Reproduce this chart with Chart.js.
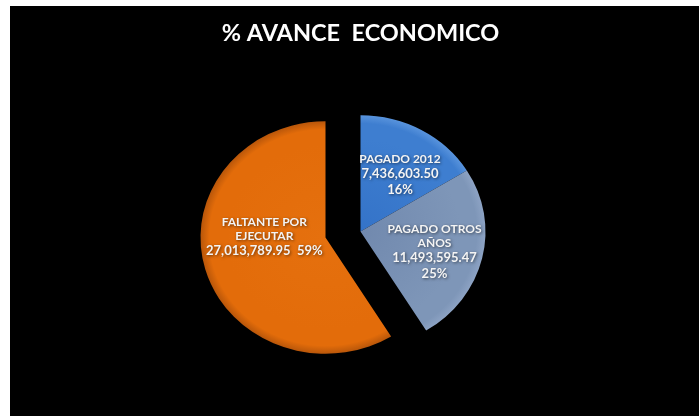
<!DOCTYPE html>
<html>
<head>
<meta charset="utf-8">
<script src="https://cdn.jsdelivr.net/npm/chart.js@4"></script>
<style>
  html, body { margin: 0; padding: 0; background: #fff; }
  .wrap { position: absolute; left: 10px; top: 6px; width: 689px; height: 410px; background: #000; }
</style>
</head>
<body>
<div class="wrap"><canvas id="chart" width="689" height="410"></canvas></div>
<script>
const chartTitle = '% AVANCE  ECONOMICO';
const categories = [['PAGADO 2012'], ['PAGADO OTROS', 'AÑOS'], ['FALTANTE POR', 'EJECUTAR']];
const amounts = [7436603.50, 11493595.47, 27013789.95];
const sliceColors = ['#3E7ED0', '#7E96B8', '#E36C0A'];
const sliceInner = ['#3473C8', '#7189AE', '#E5700E'];
const sliceRim = ['#5893DC', '#8DA3C4', '#B8560A'];

// pie look
const squash = 0.93;          // slight tilt of the pie
const pieRadius = 125;
const explodeIndex = 2;
const explodeShift = { x: -35, y: 6 };
const pctInline = [false, false, true];
const labelNudge = [[3, 4], [1, 4], [11, -20]];

const total = amounts.reduce((a, b) => a + b, 0);
const fmt = v => v.toLocaleString('en-US', { minimumFractionDigits: 2, maximumFractionDigits: 2 });

function pieCenter(chart) {
    const a = chart.chartArea;
    return { x: (a.left + a.right) / 2, y: (a.top + a.bottom) / 2 };
}

function shade(context) {
    const i = context.dataIndex;
    const chart = context.chart;
    if (!chart.chartArea) return sliceColors[i];
    const c = pieCenter(chart);
    let x = c.x, y = c.y;
    if (i === explodeIndex) { x += explodeShift.x; y += explodeShift.y / squash; }
    const g = chart.ctx.createRadialGradient(x, y, 0, x, y, pieRadius);
    g.addColorStop(0, sliceInner[i]);
    g.addColorStop(0.8, sliceColors[i]);
    g.addColorStop(0.93, sliceColors[i]);
    g.addColorStop(1, sliceRim[i]);
    return g;
}

const piePlugin = {
    id: 'pieLook',
    afterDatasetsUpdate(chart) {
        const arc = chart.getDatasetMeta(0).data[explodeIndex];
        arc.x += explodeShift.x;
        arc.y += explodeShift.y / squash;
    },
    beforeDatasetsDraw(chart) {
        const ctx = chart.ctx;
        const c = pieCenter(chart);
        ctx.save();
        ctx.translate(c.x, c.y);
        ctx.scale(1, squash);
        ctx.translate(-c.x, -c.y);
    },
    afterDatasetsDraw(chart) {
        const ctx = chart.ctx;
        ctx.restore();
        const c = pieCenter(chart);
        const arcs = chart.getDatasetMeta(0).data;
        ctx.save();
        ctx.textAlign = 'center';
        ctx.textBaseline = 'middle';
        ctx.fillStyle = '#f4f4f4';
        ctx.shadowColor = 'rgba(0,0,0,0.55)';
        ctx.shadowBlur = 3;
        ctx.shadowOffsetX = 1;
        ctx.shadowOffsetY = 1;
        arcs.forEach((arc, i) => {
            const mid = (arc.startAngle + arc.endAngle) / 2;
            const r = arc.outerRadius * 0.6;
            const x = arc.x + Math.cos(mid) * r + labelNudge[i][0];
            const y = c.y + (arc.y - c.y + Math.sin(mid) * r) * squash + labelNudge[i][1];
            const pct = Math.round(amounts[i] / total * 100) + '%';
            const lines = categories[i].map(t => ({ t, f: 'bold 12px Lato', h: 14 }));
            if (pctInline[i]) {
                lines.push({ t: fmt(amounts[i]) + '  ' + pct, f: 'bold 13px Lato', h: 16 });
            } else {
                lines.push({ t: fmt(amounts[i]), f: 'bold 13px Lato', h: 16 });
                lines.push({ t: pct, f: 'bold 13px Lato', h: 16 });
            }
            let yy = y - lines.reduce((s, l) => s + l.h, 0) / 2;
            lines.forEach(l => {
                ctx.font = l.f;
                ctx.fillText(l.t, x, yy + l.h / 2);
                yy += l.h;
            });
        });
        ctx.restore();
    }
};

new Chart(document.getElementById('chart'), {
    type: 'pie',
    data: {
        labels: categories,
        datasets: [{
            data: amounts,
            backgroundColor: shade,
            borderWidth: 0,
            radius: pieRadius
        }]
    },
    options: {
        responsive: false,
        animation: false,
        layout: { padding: { left: 12, right: 0, top: 0, bottom: 10 } },
        plugins: {
            legend: { display: false },
            tooltip: { enabled: false },
            title: {
                display: true,
                text: chartTitle,
                color: '#ffffff',
                font: { family: 'Lato', size: 23.5, weight: 'bold' },
                padding: { top: 13, bottom: 10 }
            }
        }
    },
    plugins: [piePlugin]
});
</script>
</body>
</html>
